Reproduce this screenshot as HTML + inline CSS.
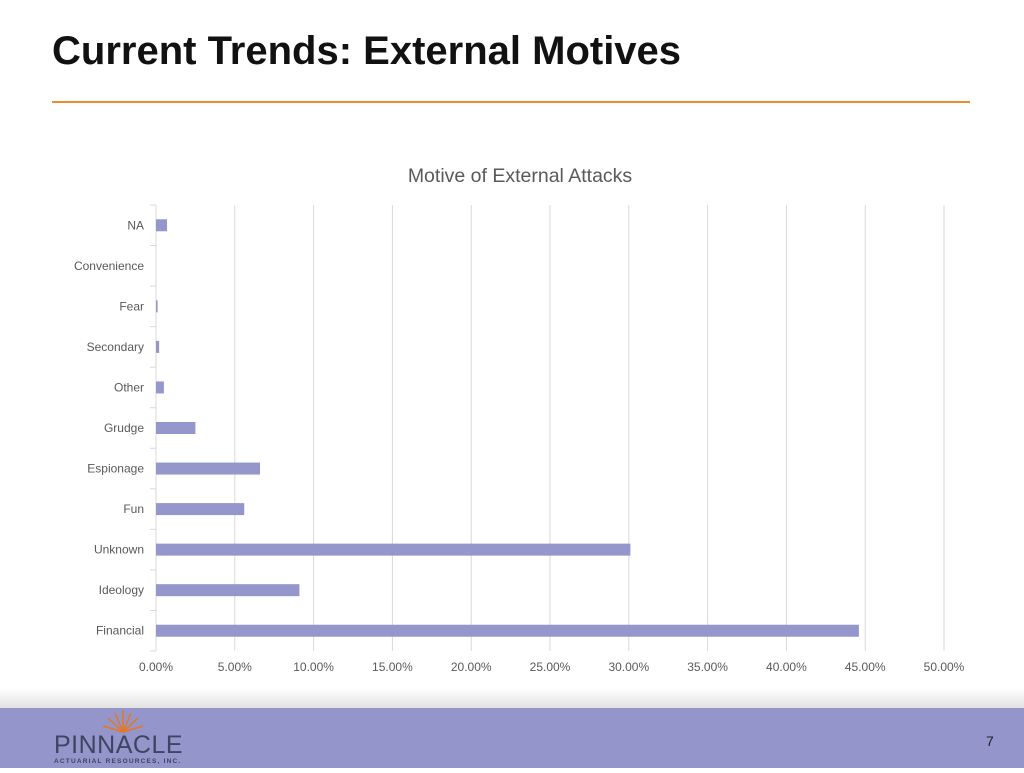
<!DOCTYPE html>
<html><head><meta charset="utf-8"><style>
body{margin:0;width:1024px;height:768px;overflow:hidden;background:#fff;font-family:"Liberation Sans",sans-serif;position:relative}
#title{position:absolute;left:52px;top:29px;font-size:40px;font-weight:bold;color:#111;letter-spacing:0px}
#rule{position:absolute;left:52px;top:101px;width:918px;height:2px;background:#ed8b2f}
#footer{position:absolute;left:0;top:708px;width:1024px;height:60px;background:#9495cb}
#shadow{position:absolute;left:0;top:688px;width:1024px;height:20px;background:linear-gradient(#fff,#e2e2e2)}
#pnum{position:absolute;left:986px;top:733px;font-size:14px;color:#222}
</style></head><body>
<div id="title">Current Trends: External Motives</div>
<div id="rule"></div>
<svg id="chart" width="1024" height="700" style="position:absolute;left:0;top:0"></svg>
<div id="shadow"></div>
<div id="footer">
<svg width="200" height="60">
<g stroke="#e8761f" stroke-width="1.5">
<line x1="123" y1="24" x2="123" y2="2"/><line x1="123" y1="24" x2="115" y2="5"/><line x1="123" y1="24" x2="131" y2="5"/>
<line x1="123" y1="24" x2="108" y2="10"/><line x1="123" y1="24" x2="138" y2="10"/><line x1="123" y1="24" x2="103" y2="18"/><line x1="123" y1="24" x2="143" y2="18"/></g>
<text x="54" y="45" font-family="Liberation Sans,sans-serif" font-size="25" fill="#3d4560" letter-spacing="0.5">PINNACLE</text>
<text x="54" y="55" font-family="Liberation Sans,sans-serif" font-size="6.5" font-weight="bold" fill="#3d4560" letter-spacing="1.2">ACTUARIAL RESOURCES, INC.</text>
</svg>
</div>
<div id="pnum">7</div>
<script>
const categories=["NA","Convenience","Fear","Secondary","Other","Grudge","Espionage","Fun","Unknown","Ideology","Financial"];
const values=[0.7,0,0.1,0.2,0.5,2.5,6.6,5.6,30.1,9.1,44.6];
const ticks=[0,5,10,15,20,25,30,35,40,45,50];
const tickLabels=["0.00%","5.00%","10.00%","15.00%","20.00%","25.00%","30.00%","35.00%","40.00%","45.00%","50.00%"];
const ns="http://www.w3.org/2000/svg";
const svg=document.getElementById('chart');
const x0=156,x1=944,yTop=205,yBot=651;
const xs=v=>x0+(v-0)/(50-0)*(x1-x0);
const band=(yBot-yTop)/categories.length;
function mk(t,a){const e=document.createElementNS(ns,t);for(const k in a)e.setAttribute(k,a[k]);svg.appendChild(e);return e;}
let t=mk('text',{x:520,y:182,'text-anchor':'middle','font-size':19.5,fill:'#595959'});t.textContent="Motive of External Attacks";


ticks.forEach((v,i)=>{
 const g=mk('line',{x1:xs(v),x2:xs(v),y1:yTop,y2:yBot,stroke:'#d9d9d9','stroke-width':1});
 
 
 const l=mk('text',{x:xs(v),y:671,'text-anchor':'middle','font-size':12,fill:'#595959'});l.textContent=tickLabels[i];
 
 
});
for(let i=0;i<=categories.length;i++){
 const tk=mk('line',{x1:150,x2:156,y1:yTop+i*band,y2:yTop+i*band,stroke:'#d9d9d9'});
 
 
}
categories.forEach((c,i)=>{
 const cy=yTop+band*(i+0.5);
 const l=mk('text',{x:144,y:cy+4,'text-anchor':'end','font-size':12,fill:'#595959'});l.textContent=c;
 
 
 const w=xs(values[i])-x0;
 if(w>0){const b=mk('rect',{x:x0,y:cy-6,width:w,height:12,fill:'#9496cc'});
 
 }
});
</script>
</body></html>
